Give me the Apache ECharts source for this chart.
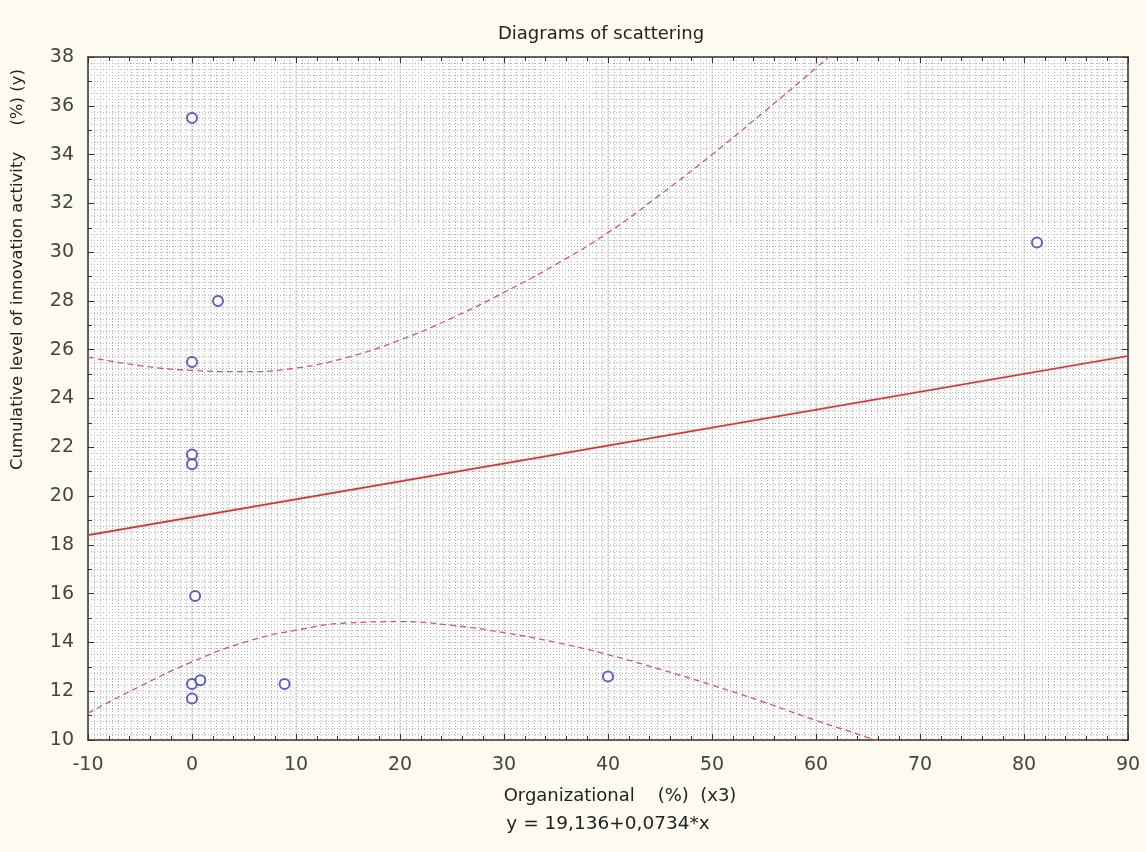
<!DOCTYPE html>
<html>
<head>
<meta charset="utf-8">
<script src="https://cdn.jsdelivr.net/npm/echarts@6/dist/echarts.min.js"></script>
<style>
  html, body { margin: 0; padding: 0; background: #fdfaf0; }
  #chart { width: 1146px; height: 852px; }
</style>
</head>
<body>
<div id="chart"></div>
<script>
// ---- Data ----
const titleText = 'Diagrams of scattering';
const xAxisTitle = 'Organizational    (%)  (x3)';
const equationText = 'y = 19,136+0,0734*x';
const yAxisTitle = 'Cumulative level of innovation activity     (%) (y)';

// observed points (x = Organizational %, y = cumulative level %)
const pointX = [0, 2.5, 0, 0, 0, 0.3, 0, 0.8, 0, 8.9, 40, 81.25];
const pointY = [35.5, 28.0, 25.5, 21.7, 21.3, 15.9, 12.3, 12.45, 11.7, 12.3, 12.6, 30.4];

// fitted line end points as drawn
const fitX = [-10, 90];
const fitY = [18.40, 25.74];

// dashed confidence band read at these x positions
const bandX = [-10, -5, 0, 5, 10, 15, 20, 25, 30, 35, 40, 45, 50, 55, 60, 65, 70];
const upperY = [25.7, 25.35, 25.15, 25.1, 25.25, 25.7, 26.4, 27.3, 28.35, 29.5, 30.8, 32.35, 34.0, 35.75, 37.55, 39.4, 41.3];
const lowerY = [11.1, 12.2, 13.2, 14.0, 14.5, 14.8, 14.85, 14.7, 14.4, 14.0, 13.5, 12.9, 12.25, 11.55, 10.8, 10.1, 9.35];

// axis ranges / ticks
const xMin = -10, xMax = 90, xStep = 10;
const yMin = 10, yMax = 38, yStep = 2;

// ---- build chart ----
const pairs = (xs, ys) => xs.map((x, i) => [x, ys[i]]);
const font = 'DejaVu Sans, sans-serif';
const chart = echarts.init(document.getElementById('chart'), null, { renderer: 'canvas' });

const dotGrid = { color: '#b2b2b2', width: 1, type: [1, 2] };
const gridRect = { left: 88, right: 18, top: 57, bottom: 112 };

const option = {
  backgroundColor: '#fdfaf0',
  animation: false,
  title: {
    text: titleText,
    left: 596, top: 20, textAlign: 'center',
    textStyle: { fontFamily: font, fontSize: 18, fontWeight: 'normal', color: '#222' }
  },
  grid: Object.assign({ backgroundColor: '#ffffff', show: true, borderWidth: 0 }, gridRect),
  xAxis: [
    { // main bottom axis with labels
      type: 'value', position: 'bottom', min: xMin, max: xMax, interval: xStep,
      axisLine: { show: true, onZero: false, lineStyle: { color: '#333', width: 1.5 } },
      axisTick: { show: true, inside: true, length: 6, lineStyle: { color: '#333' } },
      minorTick: { show: true, splitNumber: 5, length: 4, lineStyle: { color: '#333' } },
      axisLabel: { fontFamily: font, fontSize: 19, color: '#444', margin: 16 },
      splitLine: { show: true, lineStyle: { color: '#ebebeb', width: 2 } }
    },
    { // dotted grid helper
      type: 'value', position: 'bottom', min: xMin, max: xMax, interval: xStep,
      axisLine: { show: false }, axisTick: { show: false }, axisLabel: { show: false },
      splitLine: { show: true, lineStyle: dotGrid },
      minorTick: { show: false, splitNumber: 17 },
      minorSplitLine: { show: true, lineStyle: dotGrid }
    },
    { // top frame
      type: 'value', position: 'top', min: xMin, max: xMax, interval: xStep,
      axisLine: { show: true, onZero: false, lineStyle: { color: '#333', width: 1.5 } },
      axisTick: { show: true, inside: true, length: 6, lineStyle: { color: '#333' } },
      minorTick: { show: true, splitNumber: 5, length: 4, lineStyle: { color: '#333' } },
      axisLabel: { show: false }, splitLine: { show: false }
    }
  ],
  yAxis: [
    {
      type: 'value', position: 'left', min: yMin, max: yMax, interval: yStep,
      axisLine: { show: true, onZero: false, lineStyle: { color: '#333', width: 1.5 } },
      axisTick: { show: true, inside: true, length: 6, lineStyle: { color: '#333' } },
      minorTick: { show: true, splitNumber: 2, length: 4, lineStyle: { color: '#333' } },
      axisLabel: { fontFamily: font, fontSize: 19, color: '#444', margin: 14 },
      splitLine: { show: false }
    },
    {
      type: 'value', position: 'left', min: yMin, max: yMax, interval: yStep,
      axisLine: { show: false }, axisTick: { show: false }, axisLabel: { show: false },
      splitLine: { show: true, lineStyle: dotGrid },
      minorTick: { show: false, splitNumber: 8 },
      minorSplitLine: { show: true, lineStyle: dotGrid }
    },
    {
      type: 'value', position: 'right', min: yMin, max: yMax, interval: yStep,
      axisLine: { show: true, onZero: false, lineStyle: { color: '#333', width: 1.5 } },
      axisTick: { show: true, inside: true, length: 6, lineStyle: { color: '#333' } },
      minorTick: { show: true, splitNumber: 2, length: 4, lineStyle: { color: '#333' } },
      axisLabel: { show: false }, splitLine: { show: false }
    }
  ],
  graphic: [
    {
      type: 'text', z: 10, rotation: Math.PI / 2, x: 9, y: 470,
      style: { text: yAxisTitle, fontFamily: font, fontSize: 16.5, fill: '#222', align: 'left', verticalAlign: 'top' }
    },
    {
      type: 'text', z: 10,
      style: { text: xAxisTitle, x: 620, y: 796, align: 'center', verticalAlign: 'middle', fontFamily: font, fontSize: 18, fill: '#222' }
    },
    {
      type: 'text', z: 10,
      style: { text: equationText, x: 608, y: 824, align: 'center', verticalAlign: 'middle', fontFamily: font, fontSize: 18.5, fill: '#222' }
    }
  ],
  series: [
    {
      type: 'line', name: 'upper', xAxisIndex: 0, yAxisIndex: 0,
      data: pairs(bandX, upperY), smooth: true, symbol: 'none', clip: true,
      lineStyle: { color: '#c46060', width: 1.3, type: [6, 4] }, z: 3
    },
    {
      type: 'line', name: 'lower', xAxisIndex: 0, yAxisIndex: 0,
      data: pairs(bandX, lowerY), smooth: true, symbol: 'none', clip: true,
      lineStyle: { color: '#c46060', width: 1.3, type: [6, 4] }, z: 3
    },
    {
      type: 'line', name: 'fit', xAxisIndex: 0, yAxisIndex: 0,
      data: pairs(fitX, fitY), symbol: 'none', clip: true,
      lineStyle: { color: '#b04444', width: 1.6, shadowColor: 'rgba(230,130,130,0.6)', shadowBlur: 3 }, z: 4
    },
    {
      type: 'scatter', name: 'points', xAxisIndex: 0, yAxisIndex: 0,
      data: pairs(pointX, pointY), symbol: 'emptyCircle', symbolSize: 10,
      itemStyle: { color: '#3c3ca0', borderColor: '#3c3ca0', borderWidth: 1.6 }, z: 5
    }
  ]
};
chart.setOption(option);
</script>
</body>
</html>
